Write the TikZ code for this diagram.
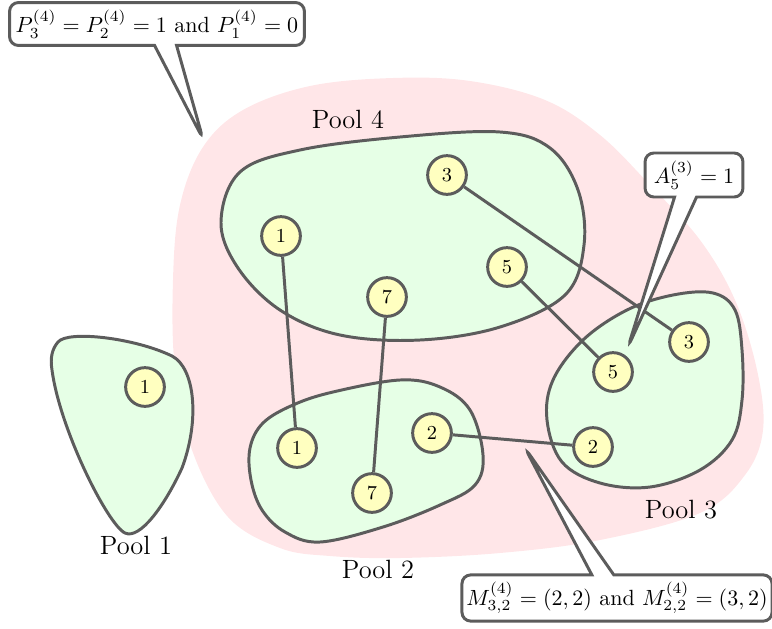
\documentclass[tikz,border=0pt]{standalone}
\usetikzlibrary{shapes.callouts}
\definecolor{linegray}{HTML}{5C5C5C}
\definecolor{poolpink}{HTML}{FFE6E8}
\definecolor{poolgreen}{HTML}{E6FFE6}
\definecolor{itemyellow}{HTML}{FFFFC0}
\pgfdeclarelayer{back}
\pgfdeclarelayer{mid}
\pgfsetlayers{back,mid,main}
\tikzset{
  pool/.style={draw=linegray, line width=1.35pt, fill=poolgreen},
  item/.style={circle, draw=linegray, line width=1.35pt, fill=itemyellow,
    minimum size=17.6pt, inner sep=0pt, font=\small},
  link/.style={draw=linegray, line width=1.35pt},
  pooltag/.style={font=\large, anchor=base},
  note/.style={rectangle callout, draw=linegray, line width=1.35pt, fill=white,
    rounded corners=4pt, callout pointer width=10pt, inner sep=2pt}
}
\begin{document}
\begin{tikzpicture}[x=0.4545pt, y=-0.4545pt]
\useasboundingbox (0,0) rectangle (772,628);

\begin{pgfonlayer}{back}
% shaded region holding the pools
\fill[poolpink] plot[smooth cycle, tension=0.6] coordinates {
  (393,78) (470,81) (545,100) (600,135) (650,185) (700,240) (735,300)
  (757,370) (763,430) (745,475) (700,513) (600,540) (500,553) (400,558)
  (330,556) (280,548) (228,517) (192,450) (175,370) (173,280) (180,205)
  (203,147) (243,110) (310,86)};

% pool 4
\path[pool] plot[smooth cycle, tension=0.6] coordinates {
  (240,172) (300,150) (400,137) (500,132) (550,148) (578,190) (584,245)
  (565,295) (500,327) (420,340) (340,335) (280,310) (238,268) (221,222)};
% pool 1
\path[pool] (58,342) .. controls (68,330) and (135,338) .. (172,356)
  .. controls (195,368) and (200,420) .. (182,468)
  .. controls (165,505) and (140,540) .. (125,533)
  .. controls (108,525) and (60,430) .. (52,370)
  .. controls (50,358) and (52,349) .. (58,342) -- cycle;
% pool 2
\path[pool] plot[smooth cycle, tension=0.6] coordinates {
  (263,423) (293,405) (333,392) (400,380) (440,387) (470,410) (483,455)
  (475,485) (440,505) (383,527) (320,542) (285,532) (262,510) (251,480)
  (250,448)};
% pool 3
\path[pool] plot[smooth cycle, tension=0.6] coordinates {
  (583,340) (627,310) (673,295) (713,293) (735,310) (742,350) (742,400)
  (732,440) (700,470) (650,487) (600,483) (562,462) (547,420) (553,380)};
\end{pgfonlayer}

% items of pool 4
\node[item] (a3) at (447,175) {3};
\node[item] (a1) at (281,236) {1};
\node[item] (a5) at (507,267) {5};
\node[item] (a7) at (387,297) {7};
% item of pool 1
\node[item] (b1) at (145,387) {1};
% items of pool 2
\node[item] (c1) at (297,448) {1};
\node[item] (c2) at (432,433) {2};
\node[item] (c7) at (372,493) {7};
% items of pool 3
\node[item] (d3) at (689,342) {3};
\node[item] (d5) at (613,372) {5};
\node[item] (d2) at (593,447) {2};

% links between items, kept under the items
\begin{pgfonlayer}{mid}
\draw[link] (a1) -- (c1);
\draw[link] (a7) -- (c7);
\draw[link] (a3) -- (d3);
\draw[link] (a5) -- (d5);
\draw[link] (c2) -- (d2);
\end{pgfonlayer}

% pool names
\node[pooltag] (t4) at (348,128) {Pool 4};
\node[pooltag] (t1) at (136,554) {Pool 1};
\node[pooltag] (t2) at (378,578) {Pool 2};
\node[pooltag] (t3) at (681,518) {Pool 3};

% remarks
\node[note, minimum width=134pt, minimum height=19.5pt,
      callout absolute pointer={(203,139)}] (n1) at (157,24)
  {$P_3^{(4)} = P_2^{(4)} = 1$ and $P_1^{(4)} = 0$};
\node[note, minimum width=44.5pt, minimum height=20pt,
      callout absolute pointer={(628,347)}] (n2) at (694,175)
  {$A_5^{(3)} = 1$};
\node[note, minimum width=140pt, minimum height=21pt,
      callout absolute pointer={(525,448)}] (n3) at (617,598)
  {$M_{3,2}^{(4)} = (2,2)$ and $M_{2,2}^{(4)} = (3,2)$};
\end{tikzpicture}
\end{document}
